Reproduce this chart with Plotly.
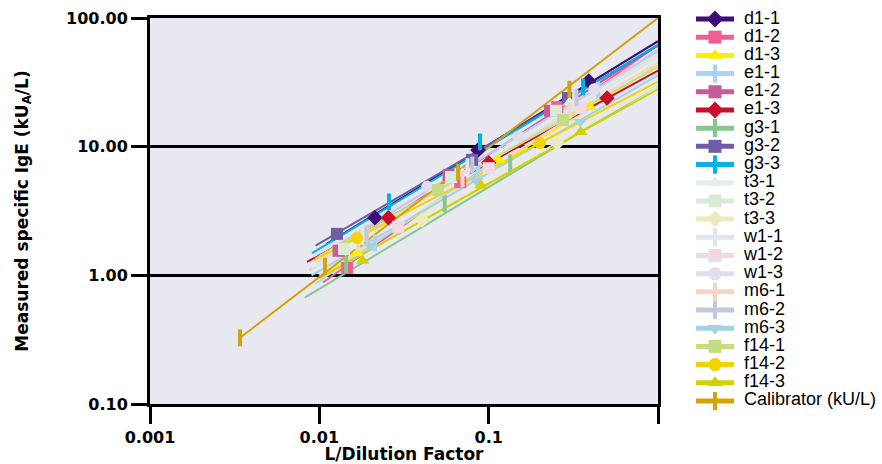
import plotly.graph_objects as go

# ---------------- data ----------------
names = ["d1-1", "d1-2", "d1-3", "e1-1", "e1-2", "e1-3", "g3-1", "g3-2", "g3-3",
         "t3-1", "t3-2", "t3-3", "w1-1", "w1-2", "w1-3", "m6-1", "m6-2", "m6-3",
         "f14-1", "f14-2", "f14-3", "Calibrator (kU/L)"]
colors = ["#3c0d78", "#ef5f95", "#f7f000", "#a9d5f2", "#c45c9c", "#c8102e",
          "#86c98e", "#6f5ca6", "#00b2e6", "#e4efec", "#d9ebd5", "#eeeac0",
          "#dfe6ee", "#f2d8e2", "#e2dced", "#f5d6c6", "#c5c6df", "#a3d3e3",
          "#c6dc84", "#f2d400", "#d2d200", "#d4a20a"]
symbols = ["diamond", "square", "triangle-up", "line-ns", "square", "diamond",
           "line-ns", "square", "line-ns", "triangle-up", "square", "diamond",
           "line-ns", "square", "circle", "line-ns", "line-ns", "triangle-down",
           "square", "circle", "triangle-up", "line-ns"]

# measured points (L/dilution factor, kUA/L)
pts_x = [[0.0213, 0.0865, 0.39], [0.0146, 0.068, 0.254], [0.0167, 0.114, 0.397],
         [0.0213, 0.0865, 0.443], [0.013, 0.058, 0.23], [0.0256, 0.1, 0.5],
         [0.0144, 0.055, 0.134], [0.0127, 0.0798, 0.294], [0.0258, 0.0889, 0.361],
         [0.016, 0.07, 0.3], [0.014, 0.06, 0.25], [0.0405, 0.254],
         [0.018, 0.075, 0.32], [0.0292, 0.1, 0.35], [0.0433, 0.15, 0.42],
         [0.017, 0.07, 0.3], [0.019, 0.08, 0.33], [0.02, 0.085, 0.347],
         [0.0502, 0.275], [0.0167, 0.201], [0.018, 0.09, 0.35],
         [0.0034, 0.0108, 0.066, 0.30]]
pts_y = [[2.8, 9.4, 32.4], [1.14, 5.3, 20.3], [1.49, 7.9, 20.3],
         [1.79, 6.3, 27.5], [1.55, 6.0, 19.0], [2.8, 7.5, 23.9],
         [1.2, 3.6, 7.5], [2.1, 7.9, 23.9], [3.72, 10.9, 29.1],
         [1.7, 6.2, 22.0], [1.6, 5.8, 19.0], [2.69, 10.7],
         [2.0, 7.0, 24.0], [2.38, 6.8, 20.0], [4.87, 12.0, 28.0],
         [1.8, 5.6, 19.0], [2.1, 7.2, 24.0], [1.7, 5.4, 15.6],
         [4.6, 16.1], [1.95, 10.7], [1.3, 5.0, 13.0],
         [0.327, 1.18, 6.35, 28.0]]

# trend lines: start x, start y, value at x = 1
trend_x0 = [0.011, 0.0105, 0.011, 0.0095, 0.0088, 0.00845, 0.0082, 0.0095, 0.00906,
            0.009, 0.0088, 0.0095, 0.0095, 0.01, 0.0092, 0.0095, 0.0095, 0.009,
            0.01, 0.0092, 0.01, 0.0034]
trend_y0 = [1.75, 0.88, 1.06, 0.86, 1.1, 1.27, 0.67, 1.7, 1.49,
            1.15, 1.1, 0.906, 1.2, 1.0, 1.4, 1.25, 1.35, 1.0,
            1.41, 1.3, 0.95, 0.327]
trend_y1 = [66, 62, 43, 57, 61.5, 39, 30, 61, 62,
            52, 50, 30, 55, 45, 52, 45, 55, 36,
            41.7, 32, 28, 100]

x_ticks = [0.001, 0.01, 0.1, 1]
x_ticktext = ["0.001", "0.01", "0.1", " "]
y_ticks = [0.1, 1, 10, 100]
y_ticktext = ["0.10", "1.00", "10.00", "100.00"]

# ---------------- figure ----------------
W, H = 882, 464
PL, PR, PT, PB = 150, 658, 18, 404
BOLD = dict(family="DejaVu Sans", size=16, color="black", weight=700)

fig = go.Figure()

def mk(sym, col, size):
    if sym.startswith("line"):
        return dict(symbol=sym, size=size, color=col, line=dict(width=4, color=col))
    return dict(symbol=sym, size=size, color=col, line=dict(width=0))

for i in range(len(names)):
    fig.add_trace(go.Scatter(
        x=[trend_x0[i], 1], y=[trend_y0[i], trend_y1[i]], mode="lines",
        line=dict(color=colors[i], width=2), showlegend=False, hoverinfo="skip"))
for i in range(len(names)):
    fig.add_trace(go.Scatter(
        x=pts_x[i], y=pts_y[i], mode="markers", name=names[i],
        marker=mk(symbols[i], colors[i], 12), showlegend=False))

# legend drawn in its own small subplot
LX0, LX1 = 696, 734
L_TOP, L_STEP = 19, 18.19
for i, n in enumerate(names):
    fig.add_trace(go.Scatter(
        x=[0, 1], y=[i, i], mode="lines", line=dict(color=colors[i], width=5),
        xaxis="x2", yaxis="y2", showlegend=False, hoverinfo="skip"))
    fig.add_trace(go.Scatter(
        x=[0.5], y=[i], mode="markers", marker=mk(symbols[i], colors[i], 13),
        xaxis="x2", yaxis="y2", showlegend=False, hoverinfo="skip"))
fig.add_trace(go.Scatter(
    x=[(744 - LX0) / (LX1 - LX0)] * len(names), y=list(range(len(names))),
    mode="text", text=names, textposition="middle right",
    textfont=dict(family="Liberation Sans", size=18, color="black"),
    cliponaxis=False, xaxis="x2", yaxis="y2", showlegend=False, hoverinfo="skip"))

# plot-area background (only the main subplot is tinted)
fig.add_shape(type="rect", xref="x domain", yref="y domain", x0=0, x1=1, y0=0, y1=1,
              fillcolor="#e8e8f1", line=dict(width=0), layer="below")

fig.update_layout(
    width=W, height=H, margin=dict(l=0, r=0, t=0, b=0, autoexpand=False),
    paper_bgcolor="white", plot_bgcolor="white", showlegend=False,
    xaxis=dict(type="log", range=[-3, 0], domain=[PL / W, PR / W], automargin=False,
               tickvals=x_ticks, ticktext=x_ticktext, ticks="outside",
               ticklen=17, tickwidth=3, tickcolor="black",
               showline=True, mirror=True, linewidth=3, linecolor="black",
               showgrid=False, zeroline=False, tickfont=BOLD,
               title=dict(text="L/Dilution Factor", font=dict(BOLD, size=17), standoff=8)),
    yaxis=dict(type="log", range=[-1, 2], domain=[1 - PB / H, 1 - PT / H], automargin=False,
               tickvals=y_ticks, ticktext=y_ticktext, ticks="outside",
               ticklen=16, tickwidth=3, tickcolor="black",
               showline=True, mirror=True, linewidth=3, linecolor="black",
               showgrid=True, gridcolor="black", gridwidth=3, zeroline=False,
               tickfont=BOLD,
               title=dict(text="Measured specific IgE (kU<sub>A</sub>/L)",
                          font=dict(BOLD, size=17), standoff=34)),
    xaxis2=dict(domain=[LX0 / W, 1], range=[0, (W - LX0) / (LX1 - LX0)], visible=False,
                anchor="y2", fixedrange=True, automargin=False),
    yaxis2=dict(domain=[0, 1], range=[(H - L_TOP) / L_STEP, -L_TOP / L_STEP],
                visible=False, anchor="x2", fixedrange=True, automargin=False),
)

fig.write_html("out.html")
